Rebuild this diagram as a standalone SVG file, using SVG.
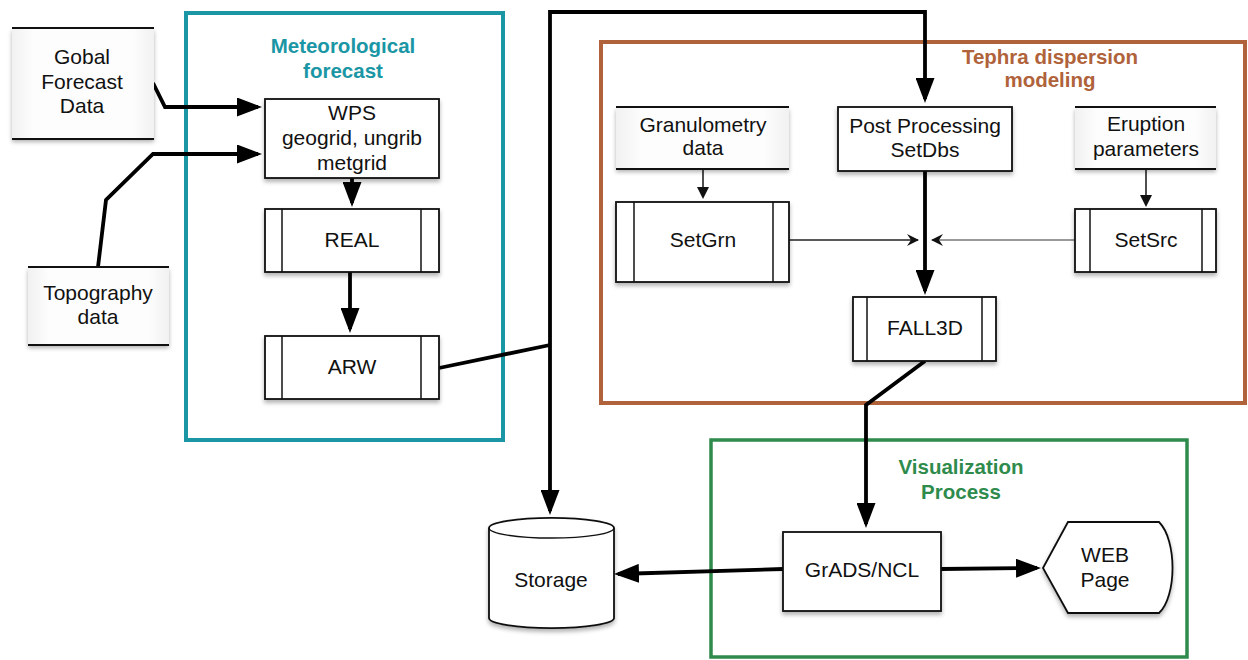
<svg xmlns="http://www.w3.org/2000/svg" width="1248" height="660" viewBox="0 0 1248 660">
<style>
text{font-family:"Liberation Sans",Arial,sans-serif;font-size:21px;fill:#111;text-anchor:middle}
.title{font-weight:bold;font-size:20.5px}
.box{fill:#fff;stroke:#111;stroke-width:1.8}
.inner{stroke:#111;stroke-width:1.5}
.store{fill:url(#sg)}
.storeline{stroke:#111;stroke-width:1.8}
.thick{fill:none;stroke:#000;stroke-width:3.8;stroke-linejoin:miter}
.thin{fill:none;stroke:#222;stroke-width:1.6}
</style>
<defs>
<linearGradient id="sg" x1="0" y1="0" x2="1" y2="0">
<stop offset="0" stop-color="#f1f1f1"/><stop offset="0.15" stop-color="#fdfdfd"/><stop offset="0.85" stop-color="#fdfdfd"/><stop offset="1" stop-color="#f1f1f1"/>
</linearGradient>
<filter id="sh" x="-10%" y="-10%" width="120%" height="130%">
<feDropShadow dx="0" dy="3" stdDeviation="2" flood-color="#000" flood-opacity="0.3"/>
</filter>
<marker id="ah" markerUnits="userSpaceOnUse" markerWidth="25" markerHeight="19" refX="21" refY="9.5" orient="auto-start-reverse">
<path d="M0,0 L25,9.5 L0,19 z" fill="#000"/>
</marker>
<marker id="ahs" markerUnits="userSpaceOnUse" markerWidth="12" markerHeight="12" refX="10" refY="6" orient="auto">
<path d="M0,0 L12,6 L0,12 z" fill="#111"/>
</marker>
<marker id="aho" markerUnits="userSpaceOnUse" markerWidth="12" markerHeight="12" refX="11" refY="6" orient="auto">
<path d="M0,0 L12,6 L0,12 L4,6 z" fill="#111"/>
</marker>
</defs>

<!-- containers -->
<g id="meteo-group">
<rect x="186" y="13" width="317" height="427" fill="none" stroke="#1a96a5" stroke-width="4"/>
<text class="title" x="343" y="53" style="fill:#1a96a5">Meteorological</text>
<text class="title" x="343" y="78" style="fill:#1a96a5">forecast</text>
</g>
<g id="tephra-group">
<rect x="601" y="42" width="644" height="361" fill="none" stroke="#b0623a" stroke-width="4"/>
<text class="title" x="1050" y="64" style="fill:#b0623a">Tephra dispersion</text>
<text class="title" x="1050" y="87" style="fill:#b0623a">modeling</text>
</g>
<g id="vis-group">
<rect x="711" y="440" width="476" height="217" fill="none" stroke="#2e8b4c" stroke-width="3.5"/>
<text class="title" x="961" y="474" style="fill:#2e8b4c">Visualization</text>
<text class="title" x="961" y="499" style="fill:#2e8b4c">Process</text>
</g>

<!-- connectors -->
<g id="connectors">
<path class="thick" d="M153,83 L165,107 L258,107" marker-end="url(#ah)"/>
<path class="thick" d="M98,267 L106,200 L153,154 L258,154" marker-end="url(#ah)"/>
<path class="thick" d="M352,178 L352,203" marker-end="url(#ah)"/>
<path class="thick" d="M350,272 L350,329" marker-end="url(#ah)"/>
<path class="thick" d="M439,368 L550,345"/>
<path class="thick" d="M550,511 L550,12 L925,12 L925,99" marker-start="url(#ah)" marker-end="url(#ah)"/>
<path class="thin" d="M703,169 L703,197" marker-end="url(#ahs)"/>
<path class="thin" d="M1146,169 L1146,205" marker-end="url(#ahs)"/>
<path class="thick" d="M925,171 L925,291" marker-end="url(#ah)"/>
<path class="thin" d="M789,240 L918,240" marker-end="url(#aho)"/>
<path class="thin" d="M1075,240 L932,240" style="stroke:#777" marker-end="url(#aho)"/>
<path class="thick" d="M925,361 L866,405 L866,524" marker-end="url(#ah)"/>
<path class="thick" d="M783,569 L618,574" marker-end="url(#ah)"/>
<path class="thick" d="M941,569 L1037,568" marker-end="url(#ah)"/>
</g>

<!-- nodes -->
<g id="global-forecast">
<rect class="store" x="12" y="28" width="142" height="111" filter="url(#sh)"/>
<line class="storeline" x1="12" y1="28" x2="154" y2="28"/>
<line class="storeline" x1="12" y1="139" x2="154" y2="139" style="stroke-width:2.2"/>
<text x="82" y="64">Gobal</text>
<text x="82" y="89">Forecast</text>
<text x="82" y="113">Data</text>
</g>
<g id="topography">
<rect class="store" x="28" y="267" width="141" height="78" filter="url(#sh)"/>
<line class="storeline" x1="28" y1="267" x2="169" y2="267"/>
<line class="storeline" x1="28" y1="345" x2="169" y2="345" style="stroke-width:2.2"/>
<text x="98" y="300">Topography</text>
<text x="98" y="324">data</text>
</g>
<g id="wps">
<rect class="box" x="265" y="99" width="174" height="79" filter="url(#sh)"/>
<text x="352" y="120">WPS</text>
<text x="352" y="145">geogrid, ungrib</text>
<text x="352" y="170">metgrid</text>
</g>
<g id="real">
<rect class="box" x="265" y="209" width="174" height="63" filter="url(#sh)"/>
<line class="inner" x1="282" y1="209" x2="282" y2="272"/>
<line class="inner" x1="421" y1="209" x2="421" y2="272"/>
<text x="352" y="247">REAL</text>
</g>
<g id="arw">
<rect class="box" x="265" y="336" width="174" height="63" filter="url(#sh)"/>
<line class="inner" x1="282" y1="336" x2="282" y2="399"/>
<line class="inner" x1="421" y1="336" x2="421" y2="399"/>
<text x="352" y="374">ARW</text>
</g>
<g id="granulometry">
<rect class="store" x="616" y="107" width="173" height="62" filter="url(#sh)"/>
<line class="storeline" x1="616" y1="107" x2="789" y2="107"/>
<line class="storeline" x1="616" y1="169" x2="789" y2="169" style="stroke-width:2.2"/>
<text x="703" y="132">Granulometry</text>
<text x="703" y="155">data</text>
</g>
<g id="post-processing">
<rect class="box" x="838" y="107" width="174" height="64" filter="url(#sh)"/>
<text x="925" y="133">Post Processing</text>
<text x="925" y="157">SetDbs</text>
</g>
<g id="eruption">
<rect class="store" x="1075" y="107" width="141" height="62" filter="url(#sh)"/>
<line class="storeline" x1="1075" y1="107" x2="1216" y2="107"/>
<line class="storeline" x1="1075" y1="169" x2="1216" y2="169" style="stroke-width:2.2"/>
<text x="1146" y="131">Eruption</text>
<text x="1146" y="156">parameters</text>
</g>
<g id="setgrn">
<rect class="box" x="616" y="202" width="173" height="80" filter="url(#sh)"/>
<line class="inner" x1="634" y1="202" x2="634" y2="282"/>
<line class="inner" x1="773" y1="202" x2="773" y2="282"/>
<text x="703" y="247">SetGrn</text>
</g>
<g id="setsrc">
<rect class="box" x="1075" y="209" width="141" height="63" filter="url(#sh)"/>
<line class="inner" x1="1090" y1="209" x2="1090" y2="272"/>
<line class="inner" x1="1202" y1="209" x2="1202" y2="272"/>
<text x="1146" y="247">SetSrc</text>
</g>
<g id="fall3d">
<rect class="box" x="853" y="297" width="143" height="64" filter="url(#sh)"/>
<line class="inner" x1="867" y1="297" x2="867" y2="361"/>
<line class="inner" x1="982" y1="297" x2="982" y2="361"/>
<text x="925" y="335">FALL3D</text>
</g>
<g id="storage">
<path d="M489,528 L489,618 A62,10 0 0 0 614,618 L614,528 A62,10 0 0 0 489,528 Z" fill="#fff" stroke="#111" stroke-width="1.8" filter="url(#sh)"/>
<path d="M489,528 A62,10 0 0 0 614,528" fill="none" stroke="#111" stroke-width="1.5"/>
<text x="551" y="587">Storage</text>
</g>
<g id="grads">
<rect class="box" x="783" y="532" width="158" height="79" filter="url(#sh)"/>
<text x="862" y="577">GrADS/NCL</text>
</g>
<g id="web-page">
<path d="M1043,568 L1068,522 L1159,522 C1177,540 1177,596 1159,613 L1068,613 Z" fill="#fff" stroke="#111" stroke-width="1.8" filter="url(#sh)"/>
<text x="1105" y="562">WEB</text>
<text x="1105" y="587">Page</text>
</g>
</svg>
